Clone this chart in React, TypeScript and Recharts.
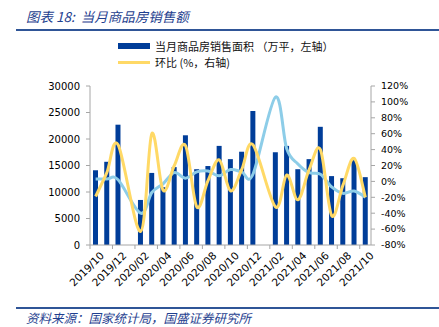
import { Bar, ComposedChart, Line, XAxis, YAxis } from "recharts"

const months = [
  "2019/10", "2019/11", "2019/12", "2020/01", "2020/02", "2020/03", "2020/04", "2020/05", "2020/06",
  "2020/07", "2020/08", "2020/09", "2020/10", "2020/11", "2020/12", "2021/01", "2021/02", "2021/03",
  "2021/04", "2021/05", "2021/06", "2021/07", "2021/08", "2021/09", "2021/10",
]
// 当月商品房销售面积（万平）, Jan merged into Feb
const salesArea = [
  14100, 15700, 22700, null, 8500, 13600, 10900, 14700, 20700,
  14300, 14900, 18700, 16200, 17600, 25300, null, 17500, 18700,
  14300, 16200, 22300, 13000, 12600, 16000, 12800,
]
// 环比 (%)
const momPct = [
  -19, 11, 46, null, -63, 60, -11, 20, 45,
  -32, 1, 27, -12, 15, 46, null, -32, 8,
  -23, 15, 40, -43, -5, 29, -20,
]
// light blue line (%), not in legend
const bluePct = [
  3, 3, 2, null, -40, -14, -3, 11, 4,
  12, 13, 7, 15, 12, 9, null, 106, 41,
  22, 11, 9, -7, -15, -12, -20,
]
const leftTicks = [0, 5000, 10000, 15000, 20000, 25000, 30000]
const rightTicks = [-80, -60, -40, -20, 0, 20, 40, 60, 80, 100, 120]

const data = months.map((m, i) => ({ month: m, area: salesArea[i], mom: momPct[i], blue: bluePct[i] }))

const NAVY = "#003d99"
const YELLOW = "#ffd966"
const SKY = "#8dcde8"
const AXIS = "#a6a6a6"
const TITLE = "#1f3f8f"
const BAND = 281 / 25

// excel-like smoothed line (catmull-rom style bezier)
const excelSmooth = (context: any) => {
  let pts: number[][] = []
  return {
    areaStart() {},
    areaEnd() {},
    lineStart() {
      pts = []
    },
    point(x: number, y: number) {
      pts.push([+x, +y])
    },
    lineEnd() {
      if (!pts.length) return
      context.moveTo(pts[0][0], pts[0][1])
      for (let i = 0; i < pts.length - 1; i++) {
        const p0 = pts[i - 1] || pts[i]
        const p1 = pts[i]
        const p2 = pts[i + 1]
        const p3 = pts[i + 2] || p2
        context.bezierCurveTo(
          p1[0] + (p2[0] - p0[0]) / 6, p1[1] + (p2[1] - p0[1]) / 6,
          p2[0] - (p3[0] - p1[0]) / 6, p2[1] - (p3[1] - p1[1]) / 6,
          p2[0], p2[1],
        )
      }
    },
  }
}

const MonthTick = ({ x, y, payload }: any) => (
  <g>
    <line x1={x - BAND / 2} x2={x - BAND / 2} y1={y} y2={y + 4} stroke={AXIS} />
    <text
      x={x + 4}
      y={y + 6}
      transform={`rotate(-45 ${x + 4} ${y + 6})`}
      textAnchor="end"
      dy="0.7em"
      fontSize={10.5}
      fontFamily="DejaVu Sans"
      fill="#000"
    >
      {payload.value}
    </text>
  </g>
)

const cjk = '"Noto Sans CJK SC", sans-serif'

export default function App() {
  return (
    <div style={{ position: "absolute", left: 0, top: 0, width: 439, height: 327, background: "#fff" }}>
      <div style={{ position: "absolute", left: 26, top: 6, fontFamily: cjk, fontStyle: "italic", fontSize: 13.5, color: TITLE, whiteSpace: "nowrap" }}>
        图表 18:&nbsp; 当月商品房销售额
      </div>
      <div style={{ position: "absolute", left: 16, top: 29, width: 423, height: 2, background: "#2f5597" }} />

      <div style={{ position: "absolute", left: 118, top: 43, width: 32, height: 6, background: NAVY }} />
      <div style={{ position: "absolute", left: 155, top: 38, fontFamily: cjk, fontSize: 11, lineHeight: "16px", color: "#111", whiteSpace: "nowrap" }}>
        当月商品房销售面积 （万平，左轴）
      </div>
      <div style={{ position: "absolute", left: 118, top: 61, width: 32, height: 3, background: YELLOW }} />
      <div style={{ position: "absolute", left: 155, top: 54, fontFamily: cjk, fontSize: 11, lineHeight: "16px", color: "#111", whiteSpace: "nowrap" }}>
        环比 (%，右轴)
      </div>

      <div style={{ position: "absolute", left: 0, top: 0 }}>
        <ComposedChart width={439} height={327} data={data} margin={{ top: 86, right: 0, bottom: 32, left: 0 }}>
          <XAxis
            dataKey="month"
            interval={1}
            height={50}
            tickSize={0}
            tickMargin={0}
            tickLine={false}
            axisLine={{ stroke: AXIS }}
            tick={<MonthTick />}
          />
          <YAxis
            yAxisId="left"
            width={90}
            domain={[0, 30000]}
            ticks={leftTicks}
            tickSize={4}
            tickMargin={6}
            axisLine={{ stroke: AXIS }}
            tickLine={{ stroke: AXIS }}
            tick={{ fill: "#000", fontSize: 10, fontFamily: "DejaVu Sans" }}
          />
          <YAxis
            yAxisId="right"
            orientation="right"
            width={68}
            domain={[-80, 120]}
            ticks={rightTicks}
            tickFormatter={(v) => `${v}%`}
            tickSize={4}
            tickMargin={6}
            axisLine={{ stroke: AXIS }}
            tickLine={{ stroke: AXIS }}
            tick={{ fill: "#000", fontSize: 9.5, fontFamily: "DejaVu Sans" }}
          />
          <Bar yAxisId="left" dataKey="area" fill={NAVY} barSize={5} isAnimationActive={false} />
          <Line
            yAxisId="right"
            dataKey="blue"
            type={excelSmooth as any}
            stroke={SKY}
            strokeWidth={3}
            dot={false}
            connectNulls
            isAnimationActive={false}
          />
          <Line
            yAxisId="right"
            dataKey="mom"
            type={excelSmooth as any}
            stroke={YELLOW}
            strokeWidth={3}
            dot={false}
            connectNulls
            isAnimationActive={false}
          />
        </ComposedChart>
      </div>

      <div style={{ position: "absolute", left: 16, top: 307, width: 423, height: 2, background: "#2f5597" }} />
      <div style={{ position: "absolute", left: 26, top: 309, fontFamily: cjk, fontStyle: "italic", fontSize: 12.5, lineHeight: "17px", color: TITLE, whiteSpace: "nowrap" }}>
        资料来源：国家统计局，国盛证券研究所
      </div>
    </div>
  )
}
